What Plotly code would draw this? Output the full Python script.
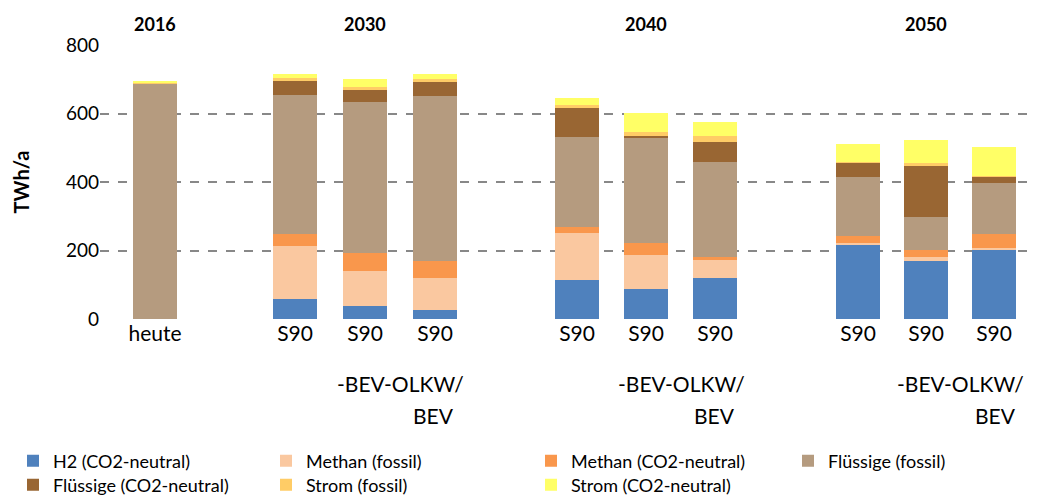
import plotly.graph_objects as go

xpos = [155, 295, 365, 435, 577, 646, 715, 858, 926, 994]
labels = ["heute", "S90", "S90", "S90", "S90", "S90", "S90", "S90", "S90", "S90"]
sub_line2 = "-BEV-OLKW/"
sub_line3 = "BEV"
groups_mid = [400, 681, 960]
groups_third = [433, 714, 995]

h2_neutral      = [0, 59, 39, 27, 115, 87, 121, 218, 168, 201]
methan_fossil   = [0, 153, 102, 92, 136, 101, 54, 5, 13, 7]
methan_neutral  = [0, 37, 53, 51, 17, 35, 5, 19, 21, 41]
fluessig_fossil = [688, 405, 439, 481, 264, 306, 279, 173, 96, 148]
fluessig_neutral= [0, 42, 36, 41, 83, 6, 58, 41, 149, 19]
strom_fossil    = [3, 7, 8, 8, 10, 12, 17, 2, 8, 2]
strom_neutral   = [4, 11, 23, 14, 19, 55, 41, 53, 67, 85]

series = [
    ("H2 (CO2-neutral)", h2_neutral, "#4f81bd"),
    ("Methan (fossil)", methan_fossil, "#fac8a0"),
    ("Methan (CO2-neutral)", methan_neutral, "#f9974c"),
    ("Flüssige (fossil)", fluessig_fossil, "#b59b7f"),
    ("Flüssige (CO2-neutral)", fluessig_neutral, "#996633"),
    ("Strom (fossil)", strom_fossil, "#ffcc66"),
    ("Strom (CO2-neutral)", strom_neutral, "#ffff66"),
]
years = [("2016", 155), ("2030", 365), ("2040", 646), ("2050", 926)]

# legend slots (left px, row)
legend_slots = [(5, 0), (258, 0), (523, 0), (780, 0), (5, 1), (258, 1), (523, 1)]

fig = go.Figure()
legend_layout = {}
for i, ((name, vals, col), (lx, row)) in enumerate(zip(series, legend_slots)):
    lname = "legend" if i == 0 else f"legend{i+1}"
    fig.add_trace(go.Bar(x=xpos, y=vals, name=name, width=44, legend=lname, showlegend=True,
                         marker=dict(color=col, line=dict(width=0))))
    legend_layout[lname] = dict(orientation="h", x=lx / 1041, y=0.122 - row * 0.0485,
                                xref="container", yref="container", xanchor="left",
                                yanchor="top", font=dict(size=18), itemwidth=30,
                                bgcolor="rgba(0,0,0,0)")

for y, xv in years:
    fig.add_annotation(x=xv, y=1.03, yref="paper", text=f"<b>{y}</b>", showarrow=False,
                       yanchor="bottom", font=dict(size=18, color="black"))
for xm, xt in zip(groups_mid, groups_third):
    fig.add_annotation(x=xm, y=-0.234, yref="paper", text=sub_line2, showarrow=False,
                       yanchor="middle", font=dict(size=21, color="black"))
    fig.add_annotation(x=xt, y=-0.354, yref="paper", text=sub_line3, showarrow=False,
                       yanchor="middle", font=dict(size=21, color="black"))

fig.update_layout(
    barmode="stack", width=1041, height=495, plot_bgcolor="white", paper_bgcolor="white",
    showlegend=True,
    margin=dict(l=92, r=14, t=37, b=184, autoexpand=False),
    font=dict(family="Lato", size=20, color="black"),
    xaxis=dict(range=[100, 1035], tickvals=xpos, ticktext=labels, showline=False,
               tickfont=dict(size=21), ticks="", tickangle=0),
    yaxis=dict(range=[0, 800], dtick=200, showgrid=True, gridcolor="#888", griddash="dash",
               gridwidth=2, zeroline=False, tickfont=dict(size=19),
               title=dict(text="<b>TWh/a</b>", font=dict(size=20), standoff=30)),
    bargap=0,
    **legend_layout,
)
fig.write_html("out.html")
